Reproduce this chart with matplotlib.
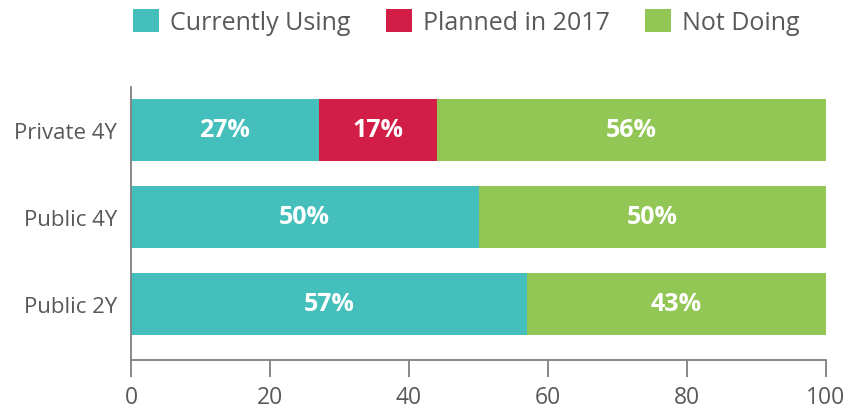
import matplotlib.pyplot as plt
from matplotlib.patches import Patch

# data
groups = ['Public 2Y', 'Public 4Y', 'Private 4Y']
currently_using = [57, 50, 27]
planned_2017 = [0, 0, 17]
not_doing = [43, 50, 56]
series_names = ['Currently Using', 'Planned in 2017', 'Not Doing']
colors = ['#45BFBC', '#D21E46', '#92C756']
gray = '#595959'

plt.rcParams['font.family'] = ['Open Sans', 'DejaVu Sans']

fig = plt.figure(figsize=(8.51, 4.10), dpi=100)
ax = fig.add_axes([131 / 851, 1 - 361 / 410, 695 / 851, 273 / 410])

y = list(range(len(groups)))
h = 0.713
left = [0] * len(groups)
for vals, col in zip([currently_using, planned_2017, not_doing], colors):
    bars = ax.barh(y, vals, height=h, left=left, color=col)
    for b, v, l in zip(bars, vals, left):
        if v > 0:
            ax.text(l + v / 2, b.get_y() + h / 2, '%d%%' % v, ha='center', va='center',
                    color='white', fontsize=18, fontweight='bold')
    left = [a + b for a, b in zip(left, vals)]

ax.set_xlim(0, 100)
ax.set_ylim(-0.644, 2.494)
ax.set_xticks([0, 20, 40, 60, 80, 100])
ax.set_yticks(y)
ax.set_yticklabels(groups)
ax.spines['top'].set_visible(False)
ax.spines['right'].set_visible(False)
for s in ['left', 'bottom']:
    ax.spines[s].set_color('#7f7f7f')
    ax.spines[s].set_linewidth(1.3)
ax.tick_params(axis='x', length=12, width=1.3, color='#7f7f7f', pad=6,
               labelsize=16.5, labelcolor=gray)
ax.tick_params(axis='y', length=0, pad=10, labelsize=16, labelcolor=gray)

handles = [Patch(facecolor=c, edgecolor='none') for c in colors]
leg = fig.legend(handles, series_names, loc='center', bbox_to_anchor=(0.548, 0.944),
                 ncol=3, frameon=False, fontsize=18, handlelength=1.04, handleheight=1.04,
                 handletextpad=0.44, columnspacing=1.4)
for t in leg.get_texts():
    t.set_color(gray)

fig.savefig('out.png', dpi=100)
